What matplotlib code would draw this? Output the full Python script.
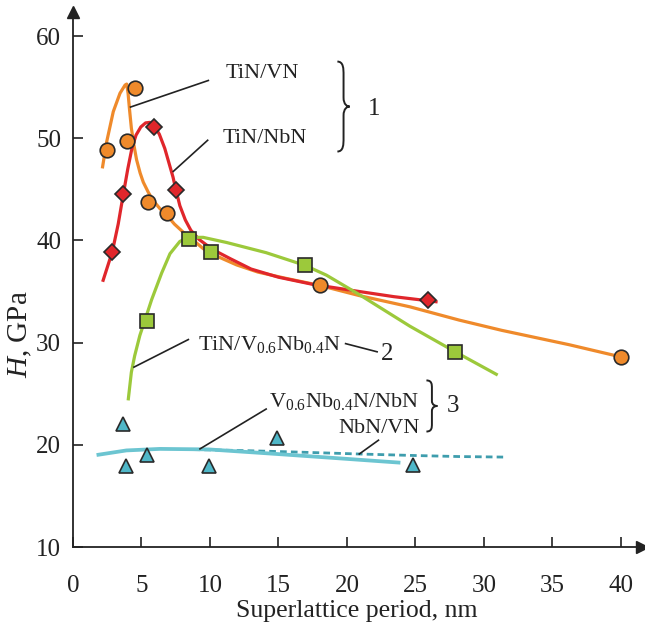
import matplotlib
matplotlib.use("Agg")
import matplotlib.pyplot as plt
from matplotlib.path import Path
from matplotlib.patches import PathPatch

plt.rcParams['font.family'] = ['Liberation Serif', 'DejaVu Serif']
plt.rcParams['mathtext.fontset'] = 'custom'
plt.rcParams['mathtext.rm'] = 'Liberation Serif'
plt.rcParams['mathtext.it'] = 'Liberation Serif:italic'

# ---- data: markers ----
tin_vn_x = [2.5, 3.95, 4.5, 5.45, 6.85, 18.0, 40.0]
tin_vn_y = [48.8, 49.7, 54.9, 43.8, 42.7, 35.6, 28.6]

tin_nbn_x = [2.87, 3.67, 5.93, 7.52, 25.9]
tin_nbn_y = [38.9, 44.5, 51.1, 44.9, 34.2]

tin_vnbn_x = [5.43, 8.45, 10.05, 16.95, 27.9]
tin_vnbn_y = [32.1, 40.1, 38.9, 37.55, 29.1]

grp3_x = [3.62, 3.9, 5.38, 9.93, 14.9, 24.8]
grp3_y = [22.0, 17.9, 19.0, 17.9, 20.7, 18.0]

tin_vn_cx = [2.16, 2.45, 2.94, 3.43, 3.8, 3.92, 4.02, 4.12, 4.26, 4.45, 4.64, 4.9, 5.13,
             5.5, 5.86, 6.35, 6.83, 7.4, 8.05, 8.8, 9.5, 10.6, 11.95, 13.5, 15.5,
             18.0, 20.9, 24.6, 28.2, 31.3, 36.2, 40.0]
tin_vn_cy = [47.2, 49.6, 52.6, 54.4, 55.2, 55.3, 54.4, 52.9, 51.0, 49.3, 47.9, 46.6, 45.7,
             44.7, 43.9, 43.1, 42.5, 41.6, 40.8, 40.0, 39.2, 38.4, 37.6, 36.9, 36.3,
             35.6, 34.6, 33.5, 32.2, 31.2, 29.8, 28.6]

tin_nbn_cx = [2.2, 2.87, 3.3, 3.67, 4.0, 4.3, 4.6, 4.95, 5.3, 5.6, 5.93, 6.3, 6.7,
              7.0, 7.3, 7.52, 7.8, 8.2, 8.6, 9.2, 9.8, 10.5, 11.5, 13.0, 15.0,
              17.5, 20.9, 23.4, 26.5]
tin_nbn_cy = [36.1, 38.9, 41.6, 44.5, 47.0, 49.0, 50.3, 51.1, 51.5, 51.55, 51.2, 50.4, 49.0,
              47.6, 46.2, 44.9, 43.4, 42.0, 41.0, 40.1, 39.5, 38.9, 38.2, 37.2, 36.4,
              35.7, 35.0, 34.5, 34.0]

tin_vnbn_cx = [4.04, 4.26, 4.5, 4.88, 5.3, 5.74, 6.47, 7.08, 7.8, 8.45, 9.5, 11.2,
               14.1, 16.95, 18.5, 20.9, 24.6, 27.9, 30.9]
tin_vnbn_cy = [24.5, 27.1, 28.7, 30.7, 32.4, 34.2, 36.8, 38.7, 39.9, 40.3, 40.3, 39.8,
               38.8, 37.55, 36.6, 34.7, 31.6, 29.1, 26.9]

vnbn_nbn_cx = [1.72, 3.9, 6.35, 9.9, 14.9, 19.7, 23.9]
vnbn_nbn_cy = [19.0, 19.45, 19.6, 19.55, 19.1, 18.65, 18.25]

nbn_vn_cx = [8.0, 12.0, 16.1, 20.9, 25.0, 28.2, 31.4]
nbn_vn_cy = [19.55, 19.45, 19.3, 19.1, 18.95, 18.85, 18.8]

xticks = [0, 5, 10, 15, 20, 25, 30, 35, 40]
yticks = [10, 20, 30, 40, 50, 60]

# ---- colours ----
c_orange = '#EF8A2B'
c_red = '#E0262B'
c_green = '#9CC93B'
c_cyan = '#6CC5D1'
c_cyan_m = '#4FB7C8'
c_cyan_d = '#3E9DAD'
edge = '#2a2a2a'

fig = plt.figure(figsize=(6.45, 6.27), dpi=100)
ax = fig.add_axes([73/645, 80/627, 568.5/645, 535.5/627])
ax.set_xlim(0, 41.5)
ax.set_ylim(10, 62.4)

lw = 2.3
ax.plot(tin_vn_cx, tin_vn_cy, color=c_orange, lw=lw, zorder=2, solid_joinstyle='round')
ax.plot(tin_nbn_cx, tin_nbn_cy, color=c_red, lw=lw, zorder=2, solid_joinstyle='round')
ax.plot(tin_vnbn_cx, tin_vnbn_cy, color=c_green, lw=lw, zorder=2, solid_joinstyle='round')
ax.plot(nbn_vn_cx, nbn_vn_cy, color=c_cyan_d, lw=2.0, ls=(0, (2.4, 1.5)), zorder=2)
ax.plot(vnbn_nbn_cx, vnbn_nbn_cy, color=c_cyan, lw=lw + 0.4, zorder=2, solid_capstyle='butt')

ax.plot(tin_vn_x, tin_vn_y, 'o', ms=10.5, mfc=c_orange, mec=edge, mew=1.2, ls='none', zorder=3)
ax.plot(tin_nbn_x, tin_nbn_y, 'D', ms=8.5, mfc=c_red, mec=edge, mew=1.2, ls='none', zorder=3)
ax.plot(tin_vnbn_x, tin_vnbn_y, 's', ms=9.5, mfc=c_green, mec=edge, mew=1.2, ls='none', zorder=3)
ax.plot(grp3_x, grp3_y, '^', ms=10, mfc=c_cyan_m, mec=edge, mew=1.2, ls='none', zorder=3)

# ---- axes styling ----
for s in ['top', 'right']:
    ax.spines[s].set_visible(False)
for s in ['left', 'bottom']:
    ax.spines[s].set_linewidth(1.3)
    ax.spines[s].set_color('#222222')
ax.set_xticks(xticks)
ax.set_yticks(yticks)
ax.tick_params(direction='in', length=7, width=1.2, color='#222222',
               labelsize=18, labelcolor='#222222')
ax.tick_params(axis='x', pad=20)
ax.tick_params(axis='y', pad=8.5)
ax.plot([1], [0], marker='>', ms=9, color='#222222', transform=ax.transAxes, clip_on=False)
ax.plot([0], [1], marker='^', ms=9, color='#222222', transform=ax.transAxes, clip_on=False)

ax.set_xlabel('Superlattice period, nm', fontsize=18.5, color='#222222', labelpad=2)
ax.set_ylabel('$\\it{H}$, GPa', fontsize=21, color='#222222')
ax.yaxis.set_label_coords(-0.068, 0.397)

# ---- annotations ----
tc = '#222222'
fs = 16
ax.text(13.8, 56.3, 'TiN/VN', fontsize=fs, ha='center', va='center', color=tc)
ax.text(14.0, 49.95, 'TiN/NbN', fontsize=fs, ha='center', va='center', color=tc)
ax.plot([4.2, 9.88], [53.05, 55.65], color=tc, lw=1.2)
ax.plot([7.32, 9.83], [46.75, 49.8], color=tc, lw=1.2)

ax.text(9.1, 29.8, 'TiN/V$\\mathregular{_{0.6}}$Nb$\\mathregular{_{0.4}}$N', fontsize=fs,
        ha='left', va='center', color=tc)
ax.plot([4.45, 8.42], [27.6, 30.3], color=tc, lw=1.2)
ax.plot([19.9, 22.2], [29.9, 29.1], color=tc, lw=1.2)
ax.text(22.5, 28.9, '2', fontsize=18, ha='left', va='center', color=tc)

ax.text(25.3, 24.2, 'V$\\mathregular{_{0.6}}$Nb$\\mathregular{_{0.4}}$N/NbN', fontsize=fs,
        ha='right', va='center', color=tc)
ax.text(25.3, 21.6, 'NbN/VN', fontsize=fs, ha='right', va='center', color=tc)
ax.plot([9.27, 14.1], [19.6, 23.5], color=tc, lw=1.2)
ax.plot([20.9, 22.3], [19.1, 20.45], color=tc, lw=1.2)


def brace(x0, x1, y0, y1):
    h = y1 - y0
    w = x1 - x0
    ym = (y0 + y1) / 2
    xm = x0 + 0.5 * w
    verts = [(x0, y1),
             (xm, y1), (xm, y1 - 0.08 * h), (xm, y1 - 0.15 * h),
             (xm, ym + 0.1 * h),
             (xm, ym + 0.02 * h), (x0 + 0.8 * w, ym), (x1, ym),
             (x0 + 0.8 * w, ym), (xm, ym - 0.02 * h), (xm, ym - 0.1 * h),
             (xm, y0 + 0.15 * h),
             (xm, y0 + 0.08 * h), (xm, y0), (x0, y0)]
    codes = [Path.MOVETO,
             Path.CURVE4, Path.CURVE4, Path.CURVE4,
             Path.LINETO,
             Path.CURVE4, Path.CURVE4, Path.CURVE4,
             Path.CURVE4, Path.CURVE4, Path.CURVE4,
             Path.LINETO,
             Path.CURVE4, Path.CURVE4, Path.CURVE4]
    ax.add_patch(PathPatch(Path(verts, codes), fill=False, lw=1.4, color=tc,
                           clip_on=False, zorder=4))


brace(19.3, 20.2, 48.7, 57.5)
ax.text(21.5, 52.9, '1', fontsize=18, ha='left', va='center', color=tc)
brace(25.8, 26.6, 21.3, 26.3)
ax.text(27.3, 23.8, '3', fontsize=18, ha='left', va='center', color=tc)

fig.savefig('out.png', dpi=100)
